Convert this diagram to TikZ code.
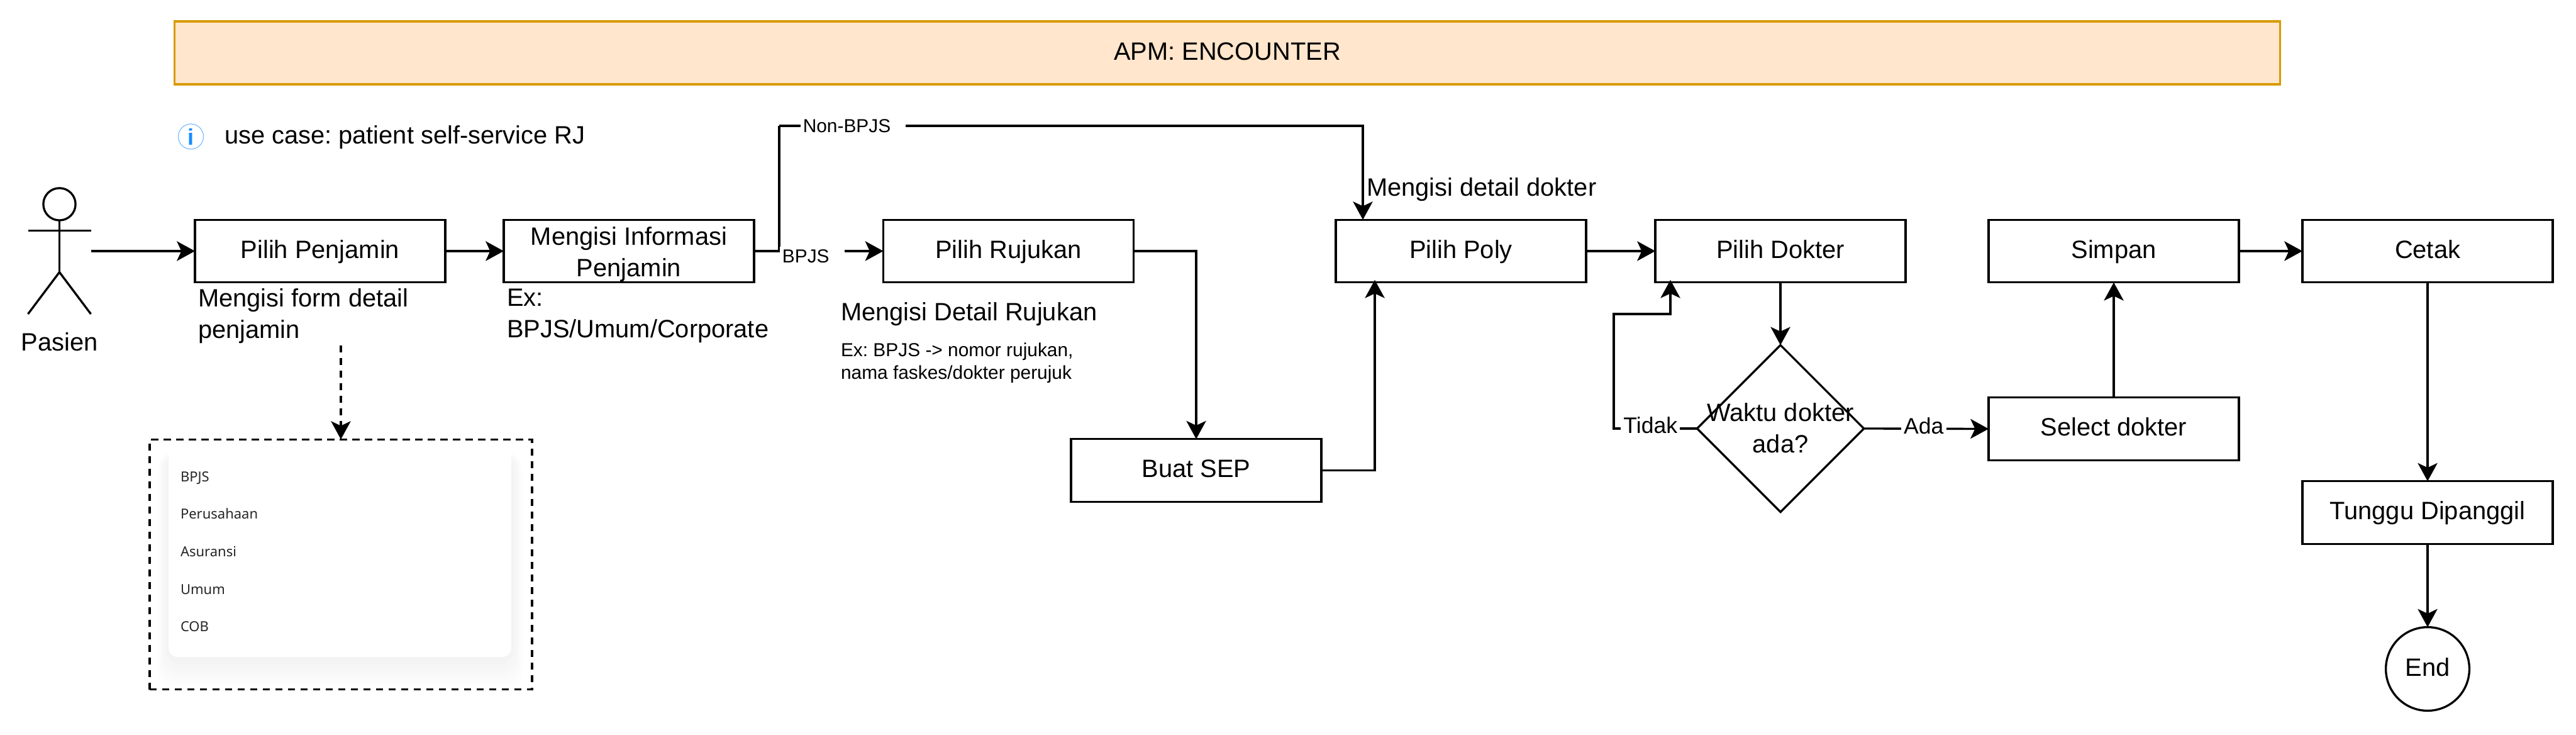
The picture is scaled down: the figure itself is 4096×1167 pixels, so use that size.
\documentclass[tikz,border=0pt]{standalone}
\usepackage{fontspec}
\setmainfont{Liberation Sans}
\newfontfamily\cardfont{Noto Sans}
\usetikzlibrary{arrows.meta, positioning, shapes.geometric}
\definecolor{bannerFill}{HTML}{FFE6CC}
\definecolor{bannerLine}{HTML}{D79B00}
\definecolor{infoBlue}{HTML}{1A8CFF}
\definecolor{infoRing}{HTML}{7ABDFF}
\newcommand{\cellstrut}{\rule[-2.2pt]{0pt}{10pt}}
\frenchspacing
\begin{document}
\begin{tikzpicture}[
        x=0.25pt, y=-0.25pt, % one unit is one pixel of the reference
        every node/.style = {font=\fontsize{9.96}{12.45}\selectfont, outer sep=0pt},
        every path/.style = {line width=0.83pt},
        flow/.style = {draw, -{Stealth[length=7.2pt, width=7.8pt, inset=1.8pt]}}, % Connectors
        struts/.style = {execute at begin node=\cellstrut, execute at end node=\cellstrut},
        cell/.style = {rectangle, draw, align=center, minimum width=99.5pt, minimum height=24.9pt, inner sep=0pt, struts}, % Process boxes
        note/.style = {anchor=west, align=left, inner sep=0pt},
        smallnote/.style = {note, font=\fontsize{7.47}{9}\selectfont},
        kant/.style = {fill=white, inner xsep=1pt, inner ysep=1pt},
        tinykant/.style = {kant, font=\fontsize{7.47}{9}\selectfont},
        midkant/.style = {kant, font=\fontsize{8.9}{10}\selectfont},
        decision/.style = {diamond, draw, aspect=1, minimum width=66.3pt, minimum height=66.3pt, inner sep=0pt},
        cardtext/.style = {anchor=west, inner sep=0pt, font=\cardfont\fontsize{5.5}{6.6}\selectfont, text=black!85, struts},
    ]
    \useasboundingbox (0,0) rectangle (4096,1167);

    \node[rectangle, draw=bannerLine, fill=bannerFill, minimum width=837pt, minimum height=25pt, inner sep=0pt, struts] (banner) at (1951.5,84) {APM: ENCOUNTER};

    \node[circle, draw=infoRing, line width=0.3pt, minimum size=10pt, inner sep=0pt, text=infoBlue, font=\fontsize{9}{10}\bfseries\selectfont] (info) at (303.5,217) {i};
    \node[note] (usecase) at (357,218) {use case: patient self-service RJ};

    % Actor
    \node[minimum width=25pt, minimum height=50pt, inner sep=0pt] (pasien) at (94.5,399) {};
    \node[circle, draw, minimum size=12.8pt, inner sep=0pt] (head) at (94.5,324.5) {};
    \draw (head.south) -- (94.5,432.5) coordinate (hip);
    \draw (pasien.west |- 0,366.5) -- (pasien.east |- 0,366.5);
    \draw (pasien.south west) -- (hip) -- (pasien.south east);
    \node[inner sep=0pt] (pasienLabel) at (94.5,543) {Pasien};

    % Main row
    \node[cell] (penjamin) at (509,399) {Pilih Penjamin};
    \node[cell] (informasi) at (1000,399) {\rule{0pt}{10.1pt}Mengisi Informasi\\Penjamin};
    \node[cell] (rujukan) at (1603.5,399) {Pilih Rujukan};
    \node[cell] (sep) at (1902,747.5) {Buat SEP};
    \node[cell] (poly) at (2323,399) {Pilih Poly};
    \node[cell] (dokter) at (2831,399) {Pilih Dokter};
    \node[decision] (waktu) at (2831,681) {};
    \node[inner sep=0pt, align=center] (waktuText) at (2831,680) {Waktu dokter\\ada?};
    \node[cell] (select) at (3361,681.5) {Select dokter};
    \node[cell] (simpan) at (3361,399) {Simpan};
    \node[cell] (cetak) at (3860,399) {Cetak};
    \node[cell] (tunggu) at (3860,814.5) {Tunggu Dipanggil};
    \node[circle, draw, minimum size=33.2pt, inner sep=0pt, struts] (selesai) at (3860,1063) {End};

    % Notes
    \node[note] (formNote) at (315,502) {Mengisi form detail\\penjamin};
    \node[note] (exNote) at (806,502) {Ex:\\BPJS/Umum/Corporate};
    \node[note] (rujukanNote) at (1337,499) {Mengisi Detail Rujukan};
    \node[smallnote] (rujukanEx) at (1337,577) {Ex: BPJS -> nomor rujukan,\\nama faskes/dokter perujuk};
    \node[note] (dokterNote) at (2173,301) {Mengisi detail dokter};

    % Dropdown picture
    \foreach \i [evaluate=\i as \tone using 0.55*\i+0.4] in {0,...,8} {
        \fill[black!\tone, rounded corners=6pt] (250+\i*2,720) rectangle (831-\i*2,1094-\i*5.5);
    }
    \node[rectangle, fill=white, rounded corners=3.5pt, minimum width=136.2pt, minimum height=84pt] (card) at (540.5,876) {};
    \node[cardtext] (itemBpjs) at (287,753.8) {BPJS};
    \node[cardtext] (itemPerusahaan) at (287,813.4) {Perusahaan};
    \node[cardtext] (itemAsuransi) at (287,872.8) {Asuransi};
    \node[cardtext] (itemUmum) at (287,932.8) {Umum};
    \node[cardtext] (itemCob) at (287,992.3) {COB};
    \node[rectangle, draw, dash pattern=on 2.8pt off 2.2pt, minimum width=152pt, minimum height=99.4pt] (dropdown) at (542,897) {};
    \coordinate (dropStart) at (542,549);

    % Connectors
    \coordinate (nonTurn) at (1239,200);
    \coordinate (polyTurn) at (2167,200);
    \coordinate (tidakTurn) at (2566,681);
    \coordinate (tidakUp) at (2566,499);

    \draw[flow] (pasien.east) -- (penjamin.west);
    \draw[flow] (penjamin.east) -- (informasi.west);
    \draw (informasi.east) -- (nonTurn |- informasi.east) -- (nonTurn);
    \draw[flow] (informasi.east) -- node[tinykant, pos=0.449, yshift=-2pt] (labelBpjs) {BPJS\kern5pt} (rujukan.west);
    \draw[flow] (nonTurn) -- node[tinykant, pos=0.1266] (labelNon) {Non-BPJS\kern5pt} (polyTurn) -- (polyTurn |- poly.north);
    \draw[flow] (rujukan.east) -| (sep.north);
    \draw[flow] (sep.east) -| ([xshift=15.5pt, yshift=1pt]poly.south west);
    \draw[flow] (poly.east) -- (dokter.west);
    \draw[flow] (dokter.south) -- (waktu.north);
    \draw[flow] (waktu.west) -- node[midkant, pos=0.56, yshift=1.4pt] (labelTidak) {Tidak} (tidakTurn) -- (tidakUp) -| ([xshift=6pt, yshift=1pt]dokter.south west);
    \draw[flow] (waktu.east) -- node[midkant, pos=0.48, yshift=1.2pt] (labelAda) {Ada} (select.west);
    \draw[flow] (select.north) -- (simpan.south);
    \draw[flow] (simpan.east) -- (cetak.west);
    \draw[flow] (cetak.south) -- (tunggu.north);
    \draw[flow] (tunggu.south) -- (selesai.north);
    \draw[flow, dash pattern=on 2.8pt off 2.2pt] (dropStart) -- (dropdown.north);
\end{tikzpicture}
\end{document}
